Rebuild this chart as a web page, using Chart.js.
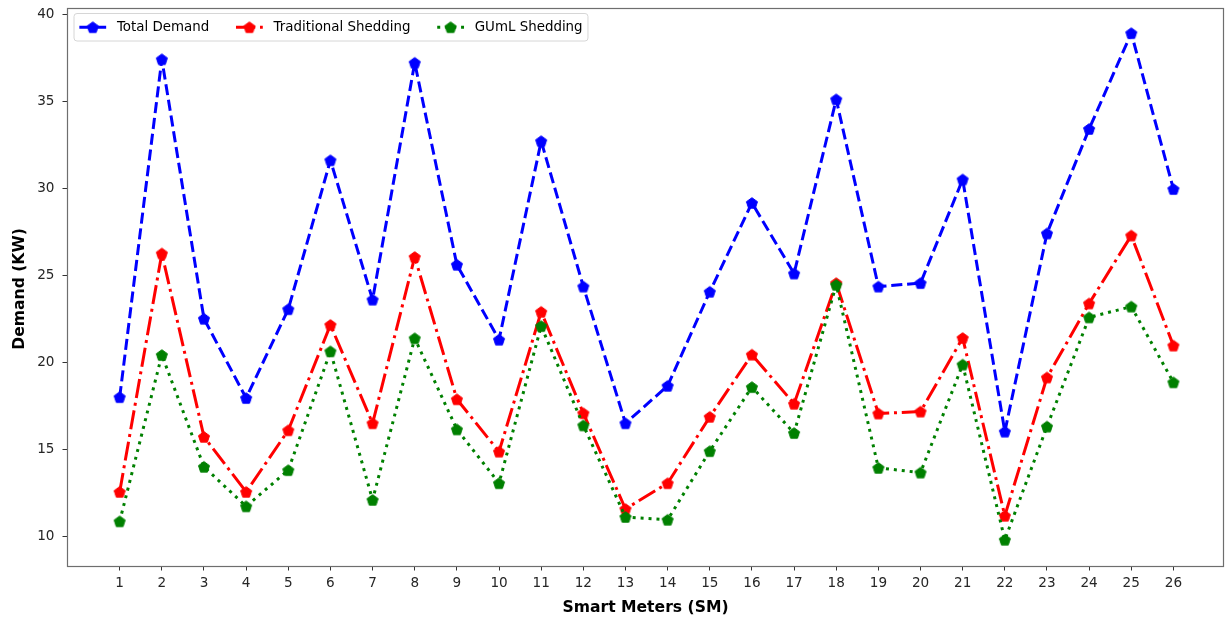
<!DOCTYPE html>
<html>
<head>
<meta charset="utf-8">
<script src="https://cdn.jsdelivr.net/npm/chart.js@4.4.1/dist/chart.umd.min.js"></script>
<style>
  html, body { margin: 0; padding: 0; background: #ffffff; }
  #wrap { width: 1225px; height: 620px; position: relative; }
</style>
</head>
<body>
<div id="wrap"><canvas id="c" width="1225" height="620"></canvas></div>
<script>
// ---- data ----
const meters = [1,2,3,4,5,6,7,8,9,10,11,12,13,14,15,16,17,18,19,20,21,22,23,24,25,26];
const totalDemand = [18.0, 37.4, 22.5, 17.95, 23.05, 31.6, 23.6, 37.2, 25.6, 21.3, 32.7, 24.35, 16.5, 18.65, 24.05, 29.15, 25.1, 35.1, 24.35, 24.55, 30.5, 16.02, 27.4, 33.4, 38.9, 29.95];
const traditionalShedding = [12.56, 26.25, 15.72, 12.56, 16.1, 22.15, 16.5, 26.05, 17.88, 14.87, 22.9, 17.08, 11.58, 13.06, 16.87, 20.44, 17.62, 24.55, 17.06, 17.17, 21.4, 11.19, 19.13, 23.38, 27.28, 20.96];
const gumlShedding = [10.87, 20.42, 14.0, 11.73, 13.81, 20.63, 12.1, 21.38, 16.15, 13.06, 22.08, 16.38, 11.12, 10.96, 14.9, 18.58, 15.94, 24.45, 13.94, 13.67, 19.87, 9.81, 16.31, 22.58, 23.2, 18.85];
const yTicks = [10, 15, 20, 25, 30, 35, 40];
const seriesNames = ['Total Demand', 'Traditional Shedding', 'GUmL Shedding'];
const xTitle = 'Smart Meters (SM)';
const yTitle = 'Demand (KW)';

// ---- styles ----
const FONT = "'DejaVu Sans', 'Liberation Sans', sans-serif";
const LW = 3;
const styles = [
  { color: '#0000ff', dash: [3.7*LW, 1.6*LW] },
  { color: '#ff0000', dash: [6.4*LW, 1.6*LW, 1*LW, 1.6*LW] },
  { color: '#008000', dash: [1*LW, 1.65*LW] }
];

function pentagonPath(ctx, cx, cy, r) {
  ctx.beginPath();
  for (let i = 0; i < 5; i++) {
    const a = -Math.PI/2 + i * 2*Math.PI/5;
    const px = cx + r*Math.cos(a), py = cy + r*Math.sin(a);
    if (i === 0) ctx.moveTo(px, py); else ctx.lineTo(px, py);
  }
  ctx.closePath();
}
function makePentagon(color) {
  const s = 16;
  const cv = document.createElement('canvas');
  cv.width = s; cv.height = s;
  const ctx = cv.getContext('2d');
  pentagonPath(ctx, s/2, s/2 + 0.5, 5.8);
  ctx.fillStyle = color; ctx.fill();
  ctx.lineWidth = 1; ctx.strokeStyle = color; ctx.stroke();
  return cv;
}
const markers = styles.map(s => makePentagon(s.color));

const seriesValues = [totalDemand, traditionalShedding, gumlShedding];
const datasets = seriesValues.map((vals, i) => ({
  label: seriesNames[i],
  data: meters.map((m, j) => ({ x: m, y: vals[j] })),
  borderColor: styles[i].color,
  backgroundColor: styles[i].color,
  borderWidth: LW,
  borderDash: styles[i].dash,
  borderCapStyle: 'butt',
  borderJoinStyle: 'round',
  pointStyle: markers[i],
  pointRadius: 6,
  pointHoverRadius: 6,
  tension: 0,
  fill: false,
  order: 3 - i,
  clip: false
}));

function zeroPad(s) { s.paddingTop = 0; s.paddingBottom = 0; s.paddingLeft = 0; s.paddingRight = 0; }

const framePlugin = {
  id: 'frame',
  afterDatasetsDraw(chart) {
    const { ctx, chartArea: a } = chart;
    ctx.save();
    ctx.strokeStyle = '#6e6e6e';
    ctx.lineWidth = 1.2;
    ctx.strokeRect(Math.round(a.left) + 0.5, Math.round(a.top) + 0.5, Math.round(a.right - a.left) - 1, Math.round(a.bottom - a.top));
    ctx.restore();
  },
  afterDraw(chart) {
    const { ctx, chartArea: a } = chart;
    ctx.save();
    // axis titles
    ctx.fillStyle = '#000000';
    ctx.font = "bold 15.6px " + FONT;
    ctx.textAlign = 'center';
    ctx.textBaseline = 'middle';
    ctx.fillText(xTitle, (a.left + a.right) / 2, 608);
    ctx.translate(19.5, (a.top + a.bottom) / 2 + 2);
    ctx.rotate(-Math.PI / 2);
    ctx.fillText(yTitle, 0, 0);
    ctx.restore();

    // legend
    ctx.save();
    const fs = 13.4;
    ctx.font = fs + "px " + FONT;
    const pad = 0.4 * fs, hl = 2 * fs, htp = 0.8 * fs, cs = 2 * fs;
    const boxL = 74, boxT = 13.5, boxB = 41;
    const cy = (boxT + boxB) / 2;
    let x = boxL + pad;
    const items = [];
    seriesNames.forEach((name, i) => {
      const w = ctx.measureText(name).width;
      items.push({ x, name, w, i });
      x += hl + htp + w + cs;
    });
    const boxR = x - cs + pad;
    const r = 3;
    ctx.beginPath();
    ctx.moveTo(boxL + r, boxT);
    ctx.lineTo(boxR - r, boxT); ctx.quadraticCurveTo(boxR, boxT, boxR, boxT + r);
    ctx.lineTo(boxR, boxB - r); ctx.quadraticCurveTo(boxR, boxB, boxR - r, boxB);
    ctx.lineTo(boxL + r, boxB); ctx.quadraticCurveTo(boxL, boxB, boxL, boxB - r);
    ctx.lineTo(boxL, boxT + r); ctx.quadraticCurveTo(boxL, boxT, boxL + r, boxT);
    ctx.closePath();
    ctx.fillStyle = 'rgba(255,255,255,0.8)';
    ctx.fill();
    ctx.strokeStyle = '#d6d6d6';
    ctx.lineWidth = 1;
    ctx.stroke();
    items.forEach(it => {
      const st = styles[it.i];
      ctx.save();
      ctx.strokeStyle = st.color;
      ctx.lineWidth = LW;
      ctx.setLineDash(st.dash);
      ctx.lineCap = 'butt';
      ctx.beginPath();
      ctx.moveTo(it.x, cy); ctx.lineTo(it.x + hl, cy);
      ctx.stroke();
      ctx.restore();
      ctx.drawImage(markers[it.i], it.x + hl / 2 - 8, cy - 8);
      ctx.fillStyle = '#000000';
      ctx.textAlign = 'left';
      ctx.textBaseline = 'middle';
      ctx.fillText(it.name, it.x + hl + htp, cy + 0.5);
    });
    ctx.restore();
  }
};

Chart.defaults.font.family = FONT;

new Chart(document.getElementById('c'), {
  type: 'line',
  data: { datasets },
  options: {
    responsive: false,
    animation: false,
    events: [],
    layout: { autoPadding: false, padding: { top: 8, right: 1, left: 0, bottom: 0 } },
    plugins: { legend: { display: false }, tooltip: { enabled: false }, title: { display: false } },
    scales: {
      x: {
        type: 'linear',
        min: -0.25,
        max: 27.2,
        afterBuildTicks: s => { s.ticks = meters.map(v => ({ value: v })); },
        afterFit: s => { s.height = 54; zeroPad(s); },
        grid: { display: true, drawOnChartArea: false, drawTicks: true, tickLength: 4.5, tickColor: '#333333', tickWidth: 1 },
        border: { display: false },
        ticks: { color: '#262626', font: { size: 13.6 }, padding: 5, autoSkip: false, maxRotation: 0, callback: v => String(v) },
        title: { display: false }
      },
      y: {
        type: 'linear',
        min: 8.306,
        max: 40.345,
        afterBuildTicks: s => { s.ticks = yTicks.map(v => ({ value: v })); },
        afterFit: s => { s.width = 67; zeroPad(s); },
        grid: { display: true, drawOnChartArea: false, drawTicks: true, tickLength: 4.5, tickColor: '#333333', tickWidth: 1 },
        border: { display: false },
        ticks: { color: '#262626', font: { size: 13.6 }, padding: 8, callback: v => String(v) },
        title: { display: false }
      }
    }
  },
  plugins: [framePlugin]
});
</script>
</body>
</html>
